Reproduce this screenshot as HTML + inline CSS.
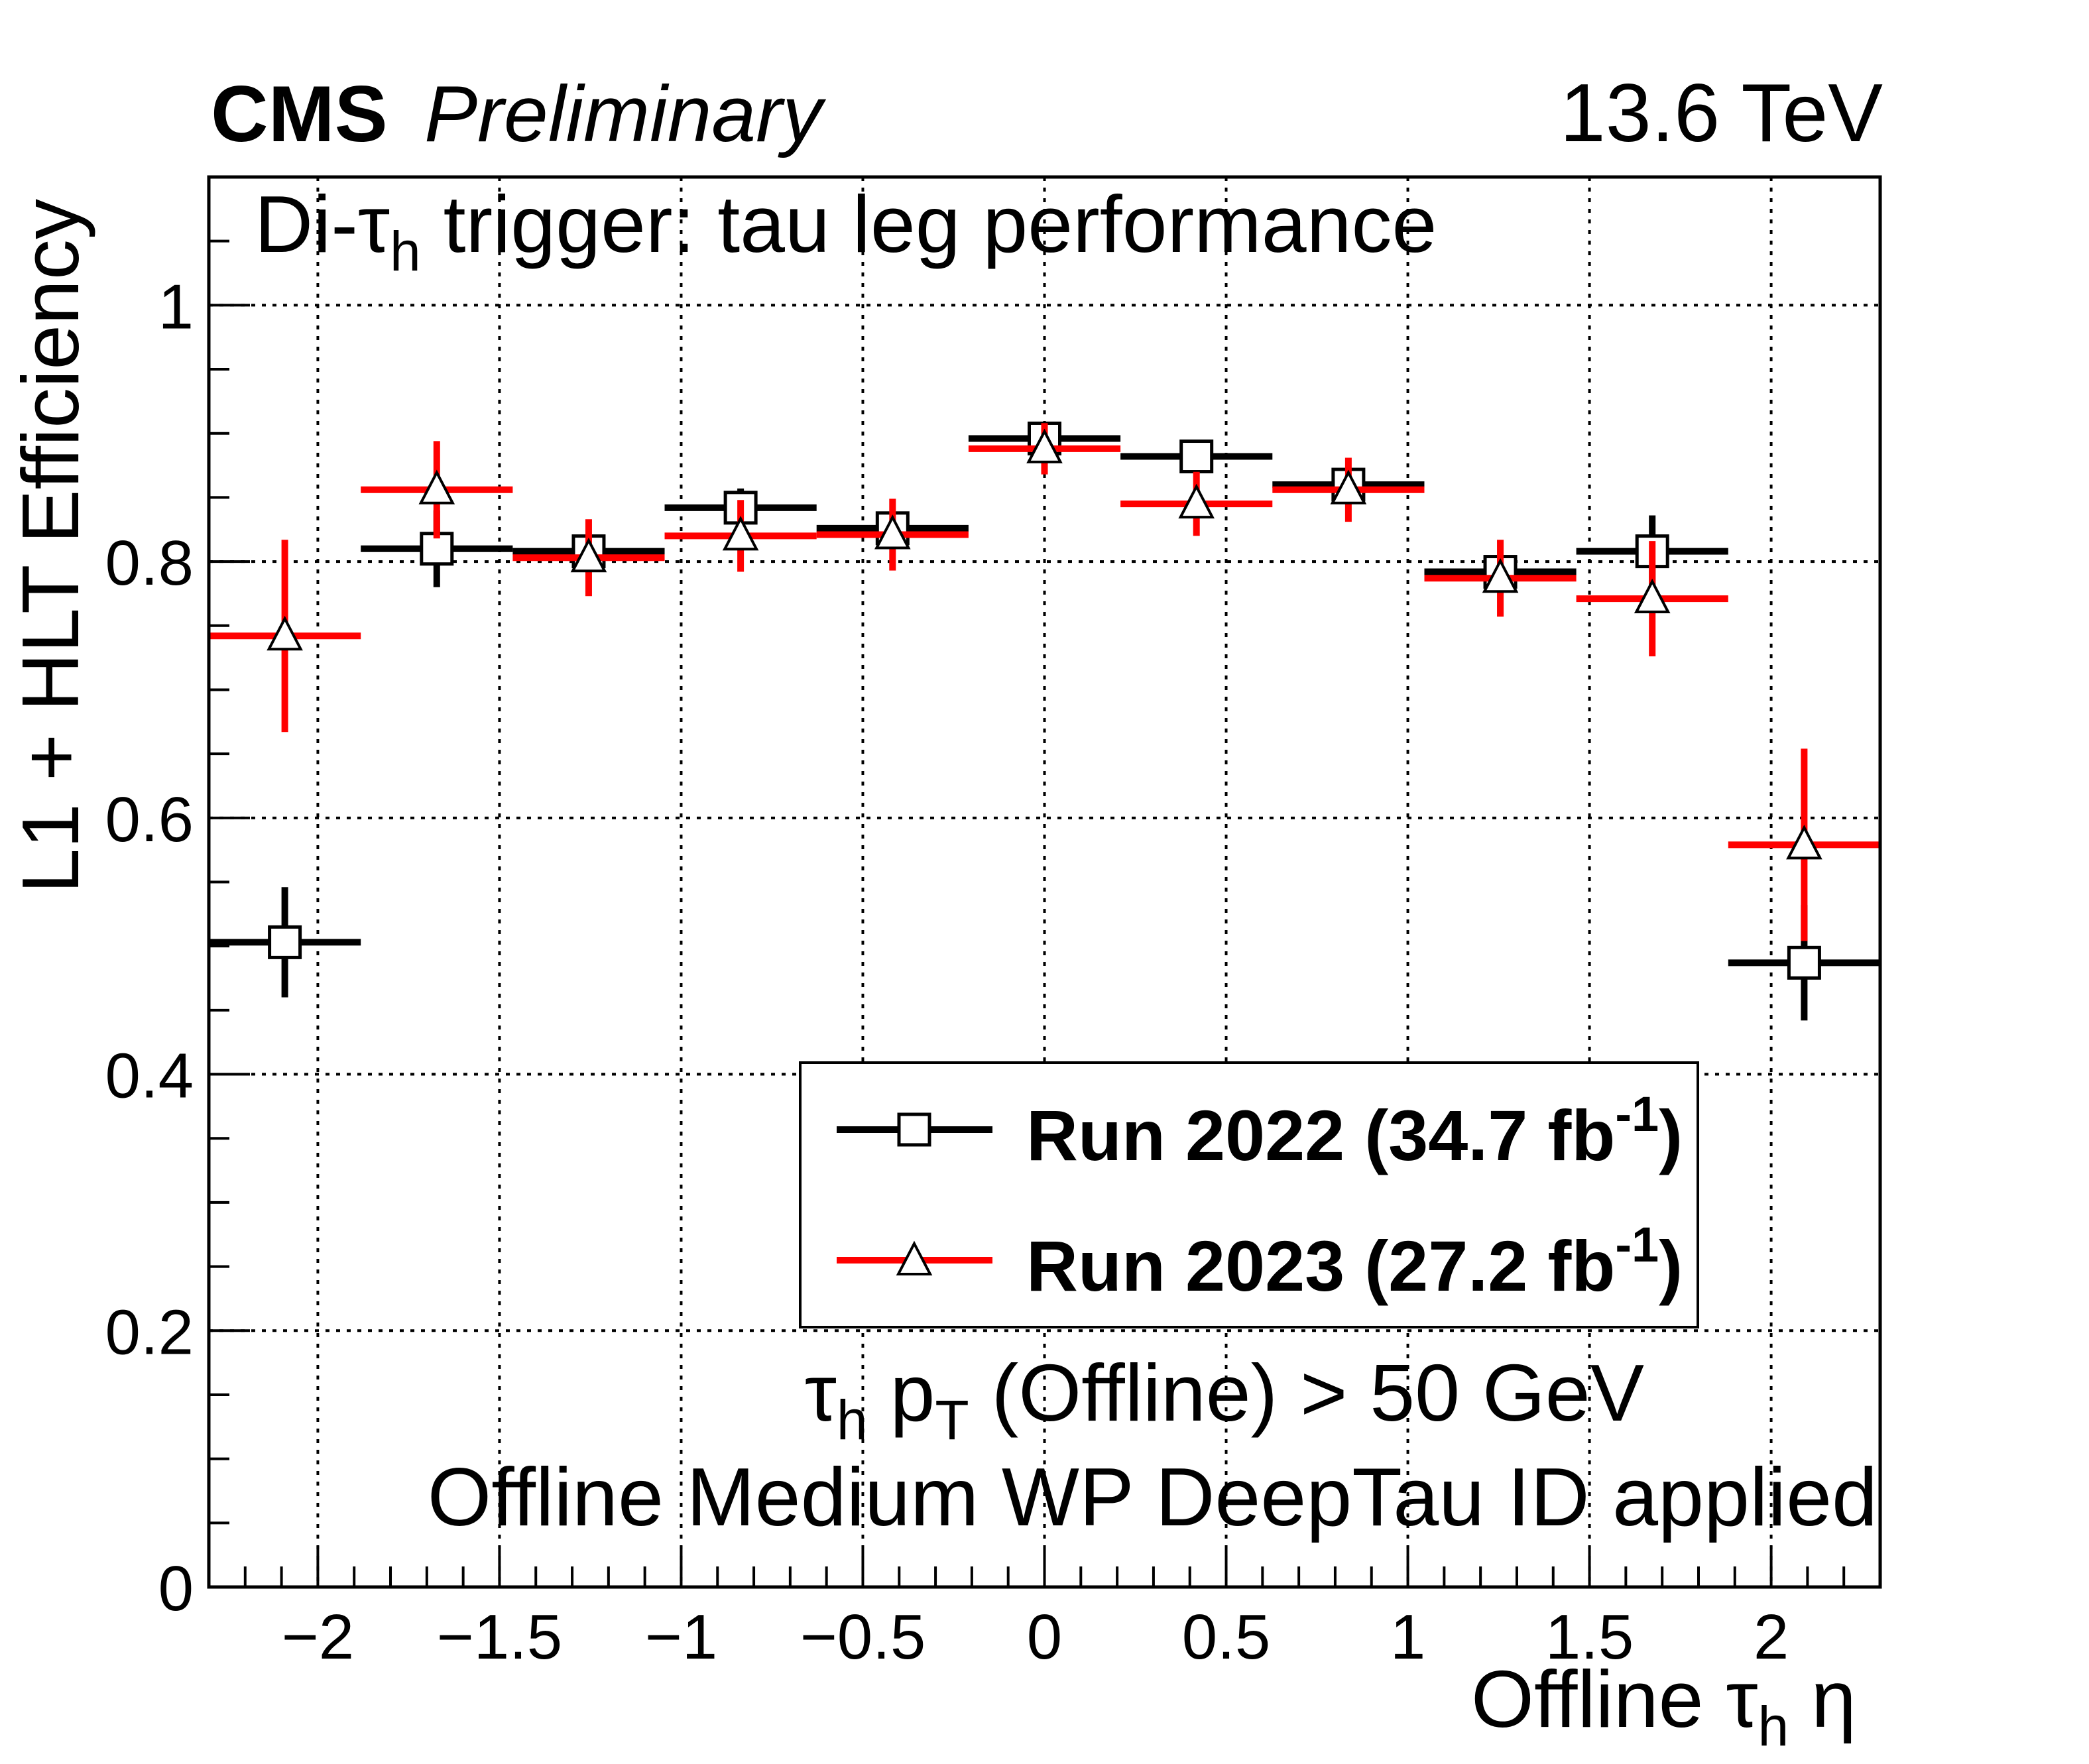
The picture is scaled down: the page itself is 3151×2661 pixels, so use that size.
<!DOCTYPE html>
<html><head><meta charset="utf-8"><style>
html,body{margin:0;padding:0;background:#fff;}
svg{display:block;font-family:"Liberation Sans",sans-serif;}
</style></head><body>
<svg id="chart" width="3151" height="2661" viewBox="0 0 3151 2661" xmlns="http://www.w3.org/2000/svg">
<rect x="0" y="0" width="3151" height="2661" fill="#fff"/>
<g id="grid"></g>
<g id="axes"></g>
<g id="series"></g>
<rect x="315" y="267" width="2521" height="2127" fill="none" stroke="#000" stroke-width="5"/>
<text x="318" y="213" font-size="120" font-weight="bold">CMS</text>
<text x="640" y="213" font-size="120" font-style="italic">Preliminary</text>
<text x="2840" y="213" font-size="124" text-anchor="end">13.6 TeV</text>
<text x="384" y="380" font-size="122">Di-τ<tspan font-size="84" dy="28">h</tspan><tspan dy="-28"> trigger: tau leg performance</tspan></text>
<text transform="translate(118,300) rotate(-90)" font-size="122" text-anchor="end">L1 + HLT Efficiency</text>
<text x="2800" y="2605" font-size="122" text-anchor="end">Offline τ<tspan font-size="84" dy="28">h</tspan><tspan dy="-28"> η</tspan></text>
<text x="2480" y="2143" font-size="122" text-anchor="end">τ<tspan font-size="84" dy="28">h</tspan><tspan dy="-28"> p</tspan><tspan font-size="84" dy="28">T</tspan><tspan dy="-28"> (Offline) &gt; 50 GeV</tspan></text>
<text x="2832" y="2301" font-size="124" text-anchor="end">Offline Medium WP DeepTau ID applied</text>
<g>
<rect x="1207" y="1603" width="1354" height="399" fill="#fff" stroke="#000" stroke-width="4"/>
<g>
<line x1="1262" y1="1704" x2="1497" y2="1704" stroke="#000" stroke-width="10"/>
<rect x="1356" y="1681" width="46" height="46" fill="#fff" stroke="#000" stroke-width="5"/>
<text x="1548" y="1750" font-size="108" font-weight="bold">Run 2022 (34.7 fb<tspan font-size="74" dy="-44">-1</tspan><tspan dy="44">)</tspan></text>
</g>
<g>
<line x1="1262" y1="1901" x2="1497" y2="1901" stroke="#f00" stroke-width="10"/>
<polygon points="1379,1876 1403,1922 1355,1922" fill="#fff" stroke="#000" stroke-width="4"/>
<text x="1548" y="1947" font-size="108" font-weight="bold">Run 2023 (27.2 fb<tspan font-size="74" dy="-44">-1</tspan><tspan dy="44">)</tspan></text>
</g>
</g>
</svg>
<script>
const binEdges = [-2.3,-1.8818,-1.4636,-1.0455,-0.6273,-0.2091,0.2091,0.6273,1.0455,1.4636,1.8818,2.3];
const eff2022 = [0.503,0.810,0.808,0.842,0.826,0.896,0.882,0.860,0.792,0.808,0.487];
const err2022 = [0.043,0.030,0.010,0.015,0.010,0.012,0.012,0.010,0.010,0.028,0.045];
const eff2023 = [0.742,0.856,0.803,0.820,0.821,0.888,0.845,0.856,0.787,0.771,0.579];
const err2023 = [0.075,0.038,0.030,0.028,0.028,0.020,0.025,0.025,0.030,0.045,0.075];
const xTicks = [-2,-1.5,-1,-0.5,0,0.5,1,1.5,2];
const xTickLabels = ["\u22122","\u22121.5","\u22121","\u22120.5","0","0.5","1","1.5","2"];
const yTicks = [0,0.2,0.4,0.6,0.8,1];
const yTickLabels = ["0","0.2","0.4","0.6","0.8","1"];

const NS="http://www.w3.org/2000/svg";
const L=315,R=2836,T=267,B=2394,XMIN=-2.3,XMAX=2.3,YMIN=0,YMAX=1.1;
const sx=v=>L+(v-XMIN)/(XMAX-XMIN)*(R-L);
const sy=v=>B-(v-YMIN)/(YMAX-YMIN)*(B-T);
function mk(tag,attrs,parent){const e=document.createElementNS(NS,tag);for(const k in attrs)e.setAttribute(k,attrs[k]);parent.appendChild(e);return e;}
const grid=document.getElementById('grid'),axes=document.getElementById('axes'),series=document.getElementById('series');
xTicks.forEach((v,i)=>{
  const g=mk('line',{x1:sx(v),x2:sx(v),y1:T,y2:B,stroke:'#000','stroke-width':4,'stroke-dasharray':'6 10'},grid);
  
  
  const t=mk('text',{x:sx(v),y:2502,'font-size':96,'text-anchor':'middle'},axes);
  t.textContent=xTickLabels[i];
  
  
});
yTicks.forEach((v,i)=>{
  if(v>0){const g=mk('line',{x1:L,x2:R,y1:sy(v),y2:sy(v),stroke:'#000','stroke-width':4,'stroke-dasharray':'6 10'},grid);
  
  }
  const t=mk('text',{x:292,y:sy(v)+35,'font-size':96,'text-anchor':'end'},axes);
  t.textContent=yTickLabels[i];
  
  
});
for(let k=-23;k<=23;k++){const v=k/10;const major=Math.abs(k%5)===0;
  const tk=mk('line',{x1:sx(v),x2:sx(v),y1:B,y2:B-(major?62:31),stroke:'#000','stroke-width':4},axes);
  
  }
for(let k=0;k<=22;k++){const v=k*0.05;const major=k%4===0;
  const tk=mk('line',{x1:L,x2:L+(major?62:31),y1:sy(v),y2:sy(v),stroke:'#000','stroke-width':4},axes);
  
  }
function drawSeries(eff,err,color,marker,name){
  const g=mk('g',{},series);
  
  
  eff.forEach((v,i)=>{
    const x0=sx(binEdges[i]),x1=sx(binEdges[i+1]),xc=(x0+x1)/2,y=sy(v);
    mk('line',{x1:x0,x2:x1,y1:y,y2:y,stroke:color,'stroke-width':10},g);
    mk('line',{x1:xc,x2:xc,y1:sy(v+err[i]),y2:sy(v-err[i]),stroke:color,'stroke-width':10},g);
  });
  eff.forEach((v,i)=>{
    const xc=(sx(binEdges[i])+sx(binEdges[i+1]))/2,y=sy(v);
    let m;
    if(marker==='square') m=mk('rect',{x:xc-23,y:y-23,width:46,height:46,fill:'#fff',stroke:'#000','stroke-width':5},g);
    else m=mk('polygon',{points:`${xc},${y-26} ${xc+24},${y+20} ${xc-24},${y+20}`,fill:'#fff',stroke:'#000','stroke-width':4},g);
    
    
  });
}
drawSeries(eff2022,err2022,'#000','square','run-2022');
drawSeries(eff2023,err2023,'#f00','triangle','run-2023');
</script>
</body></html>
